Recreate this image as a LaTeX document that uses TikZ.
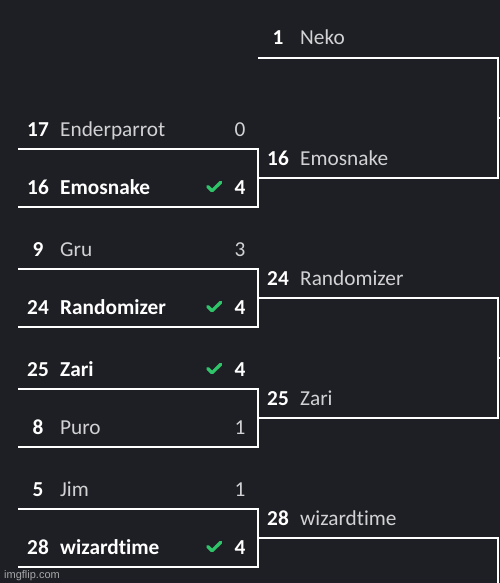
\documentclass[tikz,border=0pt]{standalone}
\usepackage{fontspec}
\setmainfont{Carlito}[Ligatures=NoCommon]
\newfontfamily\wmfont{Liberation Sans}
\definecolor{bg}{HTML}{1E1F24}
\definecolor{namegray}{HTML}{D2D2D4}
\definecolor{wingreen}{HTML}{2FC46A}
\definecolor{wmgray}{HTML}{A8A8AA}
\newcommand{\bfsz}{\fontsize{21.3}{21.3}\selectfont}
\tikzset{
  bline/.style={draw=white, line width=2.4pt},
  seed/.style={anchor=base, text=white, font=\bfsz\bfseries, inner sep=0pt},
  pname/.style={anchor=base west, text=namegray, font=\bfsz, inner sep=0pt},
  wname/.style={anchor=base west, text=white, font=\bfsz\bfseries, inner sep=0pt},
  pscore/.style={anchor=base, text=namegray, font=\bfsz, inner sep=0pt},
  wscore/.style={anchor=base, text=white, font=\bfsz\bfseries, inner sep=0pt},
  checkmk/.style={draw=wingreen, line width=3.3pt, line cap=round, line join=round},
}
\newcommand{\wincheck}[1]{\draw[checkmk] ([shift={(-6.3,-7.5)}]#1) -- ([shift={(-2,-3.2)}]#1) -- ([shift={(6.8,-11.8)}]#1);}
\begin{document}
\begin{tikzpicture}[x=1pt,y=-1pt]
\fill[bg] (0,0) rectangle (500,583);
\useasboundingbox (0,0) rectangle (500,583);

% ---------- left column entries ----------
% match 1
\node[seed] (s17) at (38,136) {17};
\node[pname] (n17) at (60,136) {Enderparrot};
\node[pscore] (c17) at (240,136) {0};
\node[seed] (s16) at (38,194) {16};
\node[wname] (n16) at (60,194) {Emosnake};
\coordinate (t16) at (214,194);
\node[wscore] (c16) at (240,194) {4};
% match 2
\node[seed] (s9) at (38,256) {9};
\node[pname] (n9) at (60,256) {Gru};
\node[pscore] (c9) at (240,256) {3};
\node[seed] (s24) at (38,314) {24};
\node[wname] (n24) at (60,314) {Randomizer};
\coordinate (t24) at (214,314);
\node[wscore] (c24) at (240,314) {4};
% match 3
\node[seed] (s25) at (38,376) {25};
\node[wname] (n25) at (60,376) {Zari};
\coordinate (t25) at (214,376);
\node[wscore] (c25) at (240,376) {4};
\node[seed] (s8) at (38,434) {8};
\node[pname] (n8) at (60,434) {Puro};
\node[pscore] (c8) at (240,434) {1};
% match 4
\node[seed] (s5) at (38,496) {5};
\node[pname] (n5) at (60,496) {Jim};
\node[pscore] (c5) at (240,496) {1};
\node[seed] (s28) at (38,554) {28};
\node[wname] (n28) at (60,554) {wizardtime};
\coordinate (t28) at (214,554);
\node[wscore] (c28) at (240,554) {4};

\wincheck{t16}
\wincheck{t24}
\wincheck{t25}
\wincheck{t28}

% ---------- right column entries ----------
\node[seed] (r1) at (278,45) {1};
\node[pname] (rn1) at (300,45) {Neko};
\node[seed] (r16) at (278,165) {16};
\node[pname] (rn16) at (300,165) {Emosnake};
\node[seed] (r24) at (278,285) {24};
\node[pname] (rn24) at (300,285) {Randomizer};
\node[seed] (r25) at (278,405) {25};
\node[pname] (rn25) at (300,405) {Zari};
\node[seed] (r28) at (278,525) {28};
\node[pname] (rn28) at (300,525) {wizardtime};

% ---------- bracket coordinates ----------
\coordinate (L1a) at (18,149);  \coordinate (L1b) at (18,207);
\coordinate (L2a) at (18,269);  \coordinate (L2b) at (18,327);
\coordinate (L3a) at (18,389);  \coordinate (L3b) at (18,447);
\coordinate (L4a) at (18,509);  \coordinate (L4b) at (18,567);
\coordinate (M1) at (258,178);
\coordinate (M2) at (258,298);
\coordinate (M3) at (258,418);
\coordinate (M4) at (258,538);
\coordinate (R0) at (258,58);
\coordinate (Q1) at (498,118);
\coordinate (Q2) at (498,358);
\coordinate (Q1e) at (501,118);
\coordinate (Q2e) at (501,358);
\coordinate (Bend) at (498,584);

% left matches
\draw[bline] (L1a) -| (M1) |- (L1b);
\draw[bline] (L2a) -| (M2) |- (L2b);
\draw[bline] (L3a) -| (M3) |- (L3b);
\draw[bline] (L4a) -| (M4) |- (L4b);

% right matches
\draw[bline] (R0) -| (Q1) |- (M1);
\draw[bline] (Q1) -- (Q1e);
\draw[bline] (M2) -| (Q2) |- (M3);
\draw[bline] (Q2) -- (Q2e);
\draw[bline] (M4) -| (Bend);

% watermark
\node[anchor=base west, inner sep=0pt, text=wmgray, font=\wmfont\fontsize{11}{11}\selectfont] (wm) at (4,578) {imgflip.com};
\end{tikzpicture}
\end{document}
